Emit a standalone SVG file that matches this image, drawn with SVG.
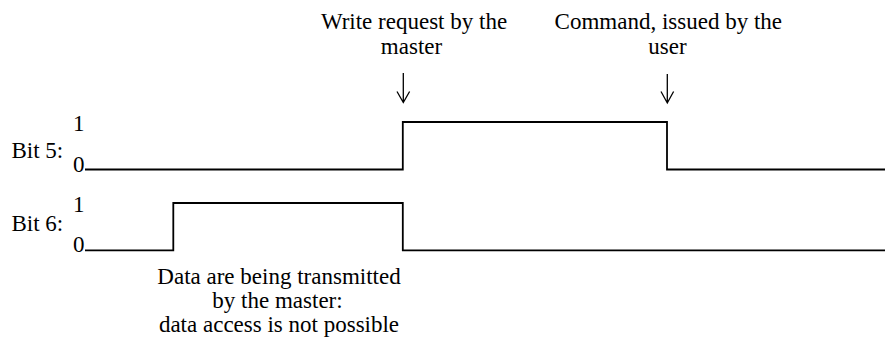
<svg xmlns="http://www.w3.org/2000/svg" width="885" height="348" viewBox="0 0 885 348">
  <style>
    text { font-size: 23px; fill: #000; }
    .mid { text-anchor: middle; }
    .signal { fill: none; stroke: #000; stroke-width: 1.8; }
    .arrow { fill: none; stroke: #000; stroke-width: 1.3; }
  </style>
  <rect width="885" height="348" fill="#fff"/>

  <!-- Bit 5 waveform -->
  <g id="bit5">
    <text x="11.5" y="158" font-family="Times">Bit 5:</text>
    <text x="73" y="131" font-family="Times">1</text>
    <text x="73" y="172" font-family="Times">0</text>
    <polyline class="signal" points="85,169.5 402.8,169.5 402.8,122 667,122 667,169.5 885,169.5"/>
  </g>

  <!-- Bit 6 waveform -->
  <g id="bit6">
    <text x="11.5" y="231" font-family="Times">Bit 6:</text>
    <text x="73" y="212" font-family="Times">1</text>
    <text x="73" y="252" font-family="Times">0</text>
    <polyline class="signal" points="85,250.3 173.3,250.3 173.3,203 402.8,203 402.8,250.3 885,250.3"/>
  </g>

  <!-- Event labels -->
  <g id="write-request">
    <text class="mid" x="414" y="29" font-family="Times">Write request by the</text>
    <text class="mid" x="411.5" y="54" font-family="Times">master</text>
  </g>
  <g id="command">
    <text class="mid" x="668.3" y="29" font-family="Times">Command, issued by the</text>
    <text class="mid" x="667.5" y="54" font-family="Times">user</text>
  </g>
  <g id="transmit-note">
    <text class="mid" x="279" y="284" font-family="Times">Data are being transmitted</text>
    <text class="mid" x="277.5" y="308" font-family="Times">by the master:</text>
    <text class="mid" x="279" y="332" font-family="Times">data access is not possible</text>
  </g>

  <!-- Pointer arrows -->
  <g id="connectors">
    <path class="arrow" d="M403.3,73 V102.5 M397,91.5 L403.3,102.5 L409.6,91.5"/>
    <path class="arrow" d="M667.3,74 V103 M661,91.5 L667.3,103 L673.6,91.5"/>
  </g>
</svg>
